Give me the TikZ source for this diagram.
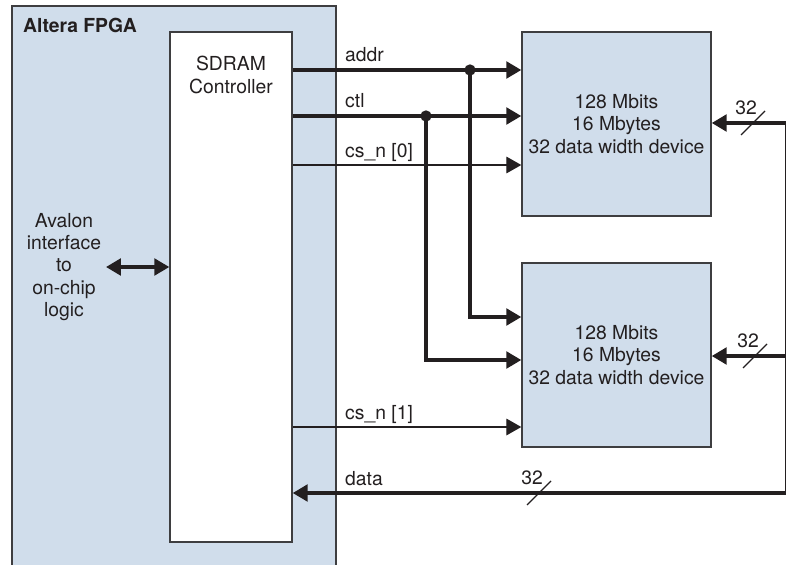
\documentclass[tikz,border=0pt]{standalone}
\usepackage{fontspec}
\setmainfont{TeX Gyre Heros}
\usepackage{tikz}
\usetikzlibrary{positioning, arrows.meta, calc}
\definecolor{ChipBlue}{RGB}{208,221,235}
\definecolor{EdgeGray}{RGB}{62,62,64}
\definecolor{InkBlack}{RGB}{35,31,32}
\newcommand{\diagfont}{\fontsize{16.5}{19}\selectfont}
\tikzset{
  box/.style={draw=EdgeGray, line width=1.2pt, inner sep=0pt},
  ctrlbox/.style={box, fill=white, minimum width=3.66cm, minimum height=15.3cm},
  chipbox/.style={box, fill=ChipBlue, minimum width=5.67cm, minimum height=5.52cm, align=center},
  bus/.style={InkBlack, line width=3pt},
  sig/.style={InkBlack, line width=1.1pt},
  sigtext/.style={anchor=base west, inner sep=0pt},
  dot/.style={fill=InkBlack},
}

\begin{document}
\begin{tikzpicture}[x=0.03cm, y=-0.03cm, font=\diagfont, text=InkBlack,
    >={Triangle[length=0.45cm,width=0.5cm]}]
    \useasboundingbox (0,0) rectangle (787,565);
    % FPGA area, open at the bottom
    \fill[ChipBlue] (12,6) rectangle (336,566);
    \draw[box] (12,566) -- (12,6) -- (336,6) -- (336,566);
    \node[anchor=base west, font=\diagfont\bfseries, inner sep=0pt] (fpgalbl) at (23,33) {Altera FPGA};
    \node[ctrlbox] (ctrl) at (231,287) {};
    \node[align=center, inner sep=0pt, below=0.75cm of ctrl.north] (ctrltitle) {SDRAM\\Controller};
    \node[align=center, inner sep=4pt] (avalon) at (64,267) {Avalon\\interface\\to\\on-chip\\logic};
    \draw[bus, <->] (avalon.east) -- (ctrl.west |- avalon.east);
    % memory devices
    \node[chipbox] (chip1) at (616.5,124) {128 Mbits\\16 Mbytes\\32 data width device};
    \node[chipbox] (chip2) at (616.5,355) {128 Mbits\\16 Mbytes\\32 data width device};
    % rows of the signals
    \coordinate (addrdot) at (470,70);
    \coordinate (ctldot) at (426,116);
    \coordinate (cszero) at (0,165);
    \coordinate (csone) at (0,427);
    \coordinate (addrtwo) at (0,317);
    \coordinate (ctltwo) at (0,360);
    \draw[bus, ->] (ctrl.east |- addrdot) -- (chip1.west |- addrdot);
    \draw[bus, ->] (ctrl.east |- ctldot) -- (chip1.west |- ctldot);
    \draw[sig, ->] (ctrl.east |- cszero) -- (chip1.west |- cszero);
    \draw[bus, ->] (addrdot) |- (chip2.west |- addrtwo);
    \draw[bus, ->] (ctldot) |- (chip2.west |- ctltwo);
    \draw[sig, ->] (ctrl.east |- csone) -- (chip2.west |- csone);
    \fill[dot] (addrdot) circle[radius=0.17cm];
    \fill[dot] (ctldot) circle[radius=0.17cm];
    \foreach \nm/\y/\t in {addr/70/addr, ctl/116/ctl, cszero/165/{cs\_n [0]}, csone/427/{cs\_n [1]}, data/493/data}
      \node[sigtext] (\nm lbl) at (345,\y-8) {\t};
    % data bus
    \coordinate (busA) at (785.5,123);
    \coordinate (busB) at (785.5,356);
    \coordinate (busC) at (785.5,493);
    \draw[sig] (busA) -- (busC);
    \draw[bus, ->] (busA) -- (chip1.east |- busA);
    \draw[bus, ->] (busB) -- (chip2.east |- busB);
    \draw[bus, ->] (busC) -- (ctrl.east |- busC);
    \coordinate (slA) at (753,123);
    \coordinate (slB) at (755,356);
    \coordinate (slC) at (539,493);
    \foreach \sl in {slA, slB, slC} {
      \draw[sig] ($(\sl)+(-12,12)$) -- ($(\sl)+(12,-12)$);
      \node (\sl lbl) at ($(\sl)+(-7,-15)$) {32};
    }
  \end{tikzpicture}
\end{document}
